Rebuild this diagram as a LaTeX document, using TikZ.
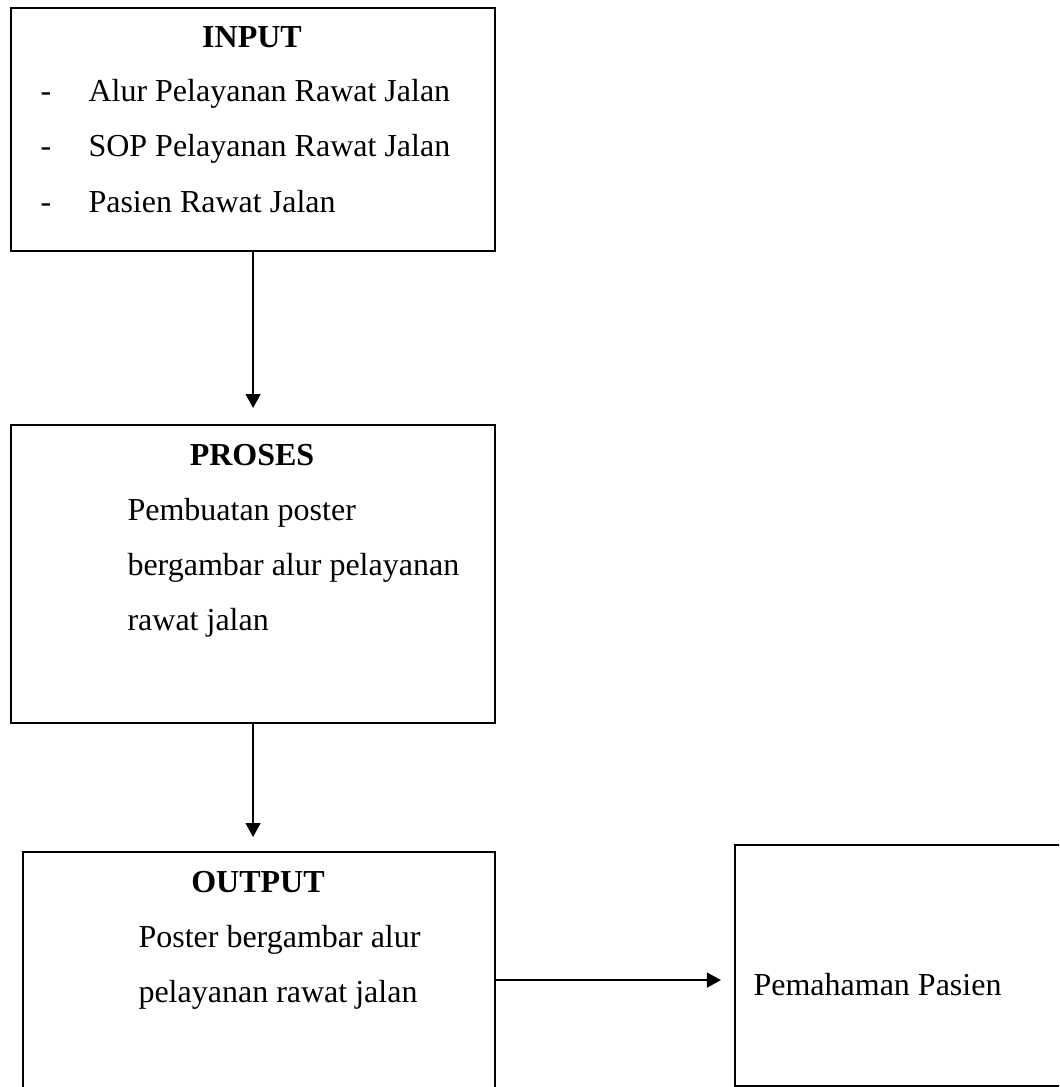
\documentclass[tikz,border=0pt]{standalone}
\usepackage{fontspec}
\setmainfont{Liberation Serif}
\usepackage{tikz}
\usetikzlibrary{positioning,arrows.meta}
\tikzset{blok/.style={draw,line width=0.8pt,inner sep=0pt,anchor=north west},
	 judul/.style={inner sep=0pt,anchor=base,font=\fontsize{12pt}{14pt}\selectfont\bfseries},
	 isi/.style={inner sep=0pt,anchor=base west,font=\fontsize{12pt}{14pt}\selectfont},
	 panah/.style={line width=0.6pt,-{Triangle[width=5.6pt,length=5.25pt]}}
	 }

\begin{document}
\begin{tikzpicture}[x=0.375pt,y=-0.375pt] % kerangka konsep
	\useasboundingbox (0,0) rectangle (1059,1087);
	\clip (0,0) rectangle (1059,1087);
	\node[blok,minimum width=181.5pt,minimum height=91.125pt] (input) at (10,7) {};
	\node[judul] (tinput) at (252,48) {INPUT};
	\node[isi] (d1) at (40,102) {-}; \node[isi] (i1) at (88,102) {Alur Pelayanan Rawat Jalan};
	\node[isi] (d2) at (40,157) {-}; \node[isi] (i2) at (88,157) {SOP Pelayanan Rawat Jalan};
	\node[isi] (d3) at (40,213) {-}; \node[isi] (i3) at (88,213) {Pasien Rawat Jalan};
	\node[blok,minimum width=181.5pt,minimum height=111.75pt] (proses) at (10,424) {};
	\node[judul] (tproses) at (252,465) {PROSES};
	\node[isi] (p1) at (127,520) {Pembuatan poster};
	\node[isi] (p2) at (127,575) {bergambar alur pelayanan};
	\node[isi] (p3) at (127,630) {rawat jalan};
	\node[blok,minimum width=177pt,minimum height=96pt] (output) at (22,851) {};
	\node[judul] (toutput) at (258,892) {OUTPUT};
	\node[isi] (o1) at (138,947) {Poster bergambar alur};
	\node[isi] (o2) at (138,1002) {pelayanan rawat jalan};
	\node[blok,minimum width=126pt,minimum height=90.375pt] (hasil) at (734,844) {};
	\node[isi] (h1) at (753,995) {Pemahaman Pasien};
	\draw[panah,shorten >=6pt] (input.south) to (proses.north);
	\draw[panah,shorten >=5.25pt] (proses.south) to (proses.south |- output.north);
	\draw[panah,shorten >=4.9pt] (output.east) to (output.east -| hasil.west);
\end{tikzpicture}
\end{document}
